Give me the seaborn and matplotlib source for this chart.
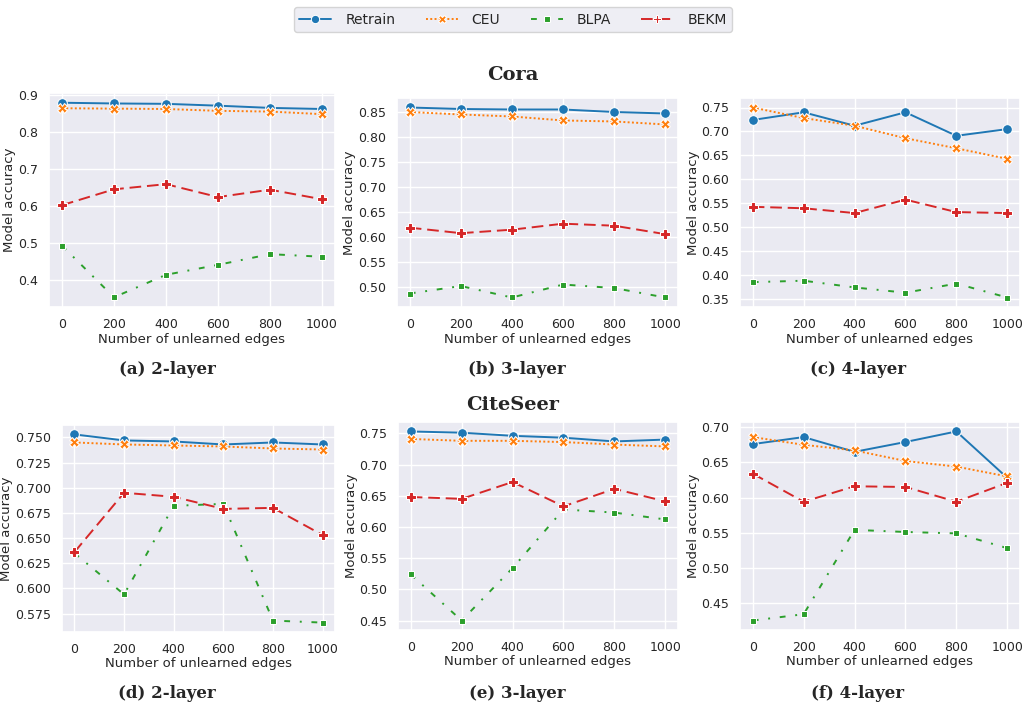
import matplotlib
matplotlib.use("Agg")
import matplotlib.pyplot as plt
from matplotlib.ticker import MultipleLocator
import numpy as np
import pandas as pd
import seaborn as sns

# ---------------------------------------------------------------------------
# Data
# ---------------------------------------------------------------------------
edges = [0, 200, 400, 600, 800, 1000]
methods = ["Retrain", "CEU", "BLPA", "BEKM"]

# Cora
cora_2_retrain = [0.880, 0.878, 0.877, 0.872, 0.866, 0.863]
cora_2_ceu = [0.865, 0.864, 0.863, 0.858, 0.856, 0.849]
cora_2_blpa = [0.492, 0.352, 0.413, 0.440, 0.469, 0.462]
cora_2_bekm = [0.602, 0.645, 0.659, 0.624, 0.644, 0.618]

cora_3_retrain = [0.860, 0.857, 0.856, 0.856, 0.851, 0.848]
cora_3_ceu = [0.851, 0.846, 0.842, 0.834, 0.832, 0.826]
cora_3_blpa = [0.487, 0.502, 0.479, 0.505, 0.498, 0.479]
cora_3_bekm = [0.619, 0.608, 0.615, 0.627, 0.623, 0.606]

cora_4_retrain = [0.724, 0.740, 0.712, 0.740, 0.691, 0.705]
cora_4_ceu = [0.750, 0.728, 0.712, 0.686, 0.665, 0.643]
cora_4_blpa = [0.386, 0.389, 0.375, 0.364, 0.383, 0.354]
cora_4_bekm = [0.543, 0.540, 0.530, 0.558, 0.532, 0.530]

# CiteSeer
cite_2_retrain = [0.753, 0.747, 0.746, 0.743, 0.745, 0.743]
cite_2_ceu = [0.745, 0.743, 0.742, 0.741, 0.739, 0.738]
cite_2_blpa = [0.635, 0.594, 0.682, 0.684, 0.568, 0.566]
cite_2_bekm = [0.636, 0.695, 0.691, 0.679, 0.680, 0.653]

cite_3_retrain = [0.753, 0.751, 0.746, 0.743, 0.737, 0.740]
cite_3_ceu = [0.741, 0.738, 0.738, 0.736, 0.732, 0.729]
cite_3_blpa = [0.524, 0.450, 0.534, 0.628, 0.623, 0.612]
cite_3_bekm = [0.648, 0.645, 0.672, 0.633, 0.661, 0.641]

cite_4_retrain = [0.676, 0.686, 0.665, 0.679, 0.694, 0.628]
cite_4_ceu = [0.686, 0.675, 0.667, 0.652, 0.644, 0.630]
cite_4_blpa = [0.425, 0.434, 0.554, 0.551, 0.549, 0.528]
cite_4_bekm = [0.634, 0.594, 0.616, 0.615, 0.594, 0.621]

panels = [
    ("(a) 2-layer", [cora_2_retrain, cora_2_ceu, cora_2_blpa, cora_2_bekm]),
    ("(b) 3-layer", [cora_3_retrain, cora_3_ceu, cora_3_blpa, cora_3_bekm]),
    ("(c) 4-layer", [cora_4_retrain, cora_4_ceu, cora_4_blpa, cora_4_bekm]),
    ("(d) 2-layer", [cite_2_retrain, cite_2_ceu, cite_2_blpa, cite_2_bekm]),
    ("(e) 3-layer", [cite_3_retrain, cite_3_ceu, cite_3_blpa, cite_3_bekm]),
    ("(f) 4-layer", [cite_4_retrain, cite_4_ceu, cite_4_blpa, cite_4_bekm]),
]
y_steps = [0.1, 0.05, 0.05, 0.025, 0.05, 0.05]

# ---------------------------------------------------------------------------
# Style
# ---------------------------------------------------------------------------
tab = sns.color_palette("tab10")
palette = {"Retrain": tab[0], "CEU": tab[1], "BLPA": tab[2], "BEKM": tab[3]}
markers = {"Retrain": "o", "CEU": "X", "BLPA": "s", "BEKM": "P"}
marker_sizes = {"Retrain": 7, "CEU": 7, "BLPA": 5, "BEKM": 7}
dashes = {"Retrain": "", "CEU": (1, 1.2), "BLPA": (3, 5, 1, 5), "BEKM": (6, 3)}

# axes boxes in pixels: left, top, right, bottom
W, H = 1026, 710
boxes = [
    (49, 93, 335, 307), (397, 98, 678, 307), (740, 98, 1020, 307),
    (62, 425, 335, 632), (398, 422, 678, 630), (740, 422, 1020, 630),
]
caption_xy = [(167, 370), (517, 370), (858, 370), (167, 693), (517, 693), (858, 693)]


def to_frame(series):
    rows = []
    for name, vals in zip(methods, series):
        for x, y in zip(edges, vals):
            rows.append({"edges": x, "acc": y, "method": name})
    return pd.DataFrame(rows)


sns.set_theme(style="darkgrid")
fig = plt.figure(figsize=(W / 100, H / 100), dpi=100)

handles = labels = None
for i, ((caption, series), box, step) in enumerate(zip(panels, boxes, y_steps)):
    l, t, r, b = box
    ax = fig.add_axes([l / W, 1 - b / H, (r - l) / W, (b - t) / H])
    df = to_frame(series)
    sns.lineplot(
        data=df, x="edges", y="acc", hue="method", style="method",
        palette=palette, markers=markers, dashes=dashes,
        hue_order=methods, style_order=methods,
        linewidth=1.4, ax=ax,
    )
    # shrink markers per series (squares read larger than circles)
    for line, name in zip(ax.lines, methods):
        line.set_markersize(marker_sizes[name])

    ax.set_xticks(edges)
    ax.yaxis.set_major_locator(MultipleLocator(step))
    ax.tick_params(labelsize=9, pad=2)
    ax.set_ylabel("Model accuracy", fontsize=9.5, labelpad=1)
    ax.set_xlabel("Number of unlearned edges", fontsize=9.5, labelpad=1)
    if handles is None:
        handles, labels = ax.get_legend_handles_labels()
    ax.get_legend().remove()

    cx, cy = caption_xy[i]
    fig.text(cx / W, 1 - cy / H, caption, ha="center", va="center",
             family="DejaVu Serif", weight="bold", fontsize=12)

fig.text(513 / W, 1 - 75 / H, "Cora", ha="center", va="center",
         family="DejaVu Serif", weight="bold", fontsize=14)
fig.text(513 / W, 1 - 405 / H, "CiteSeer", ha="center", va="center",
         family="DejaVu Serif", weight="bold", fontsize=14)

for h, name in zip(handles, labels):
    h.set_markersize(marker_sizes[name] - 1)
fig.legend(handles, labels, loc="upper center", bbox_to_anchor=(0.5, 1.0),
           ncol=4, frameon=True, fontsize=10, columnspacing=2.2,
           handlelength=2.3, handletextpad=1.0)

plt.savefig("out.png", dpi=100)
